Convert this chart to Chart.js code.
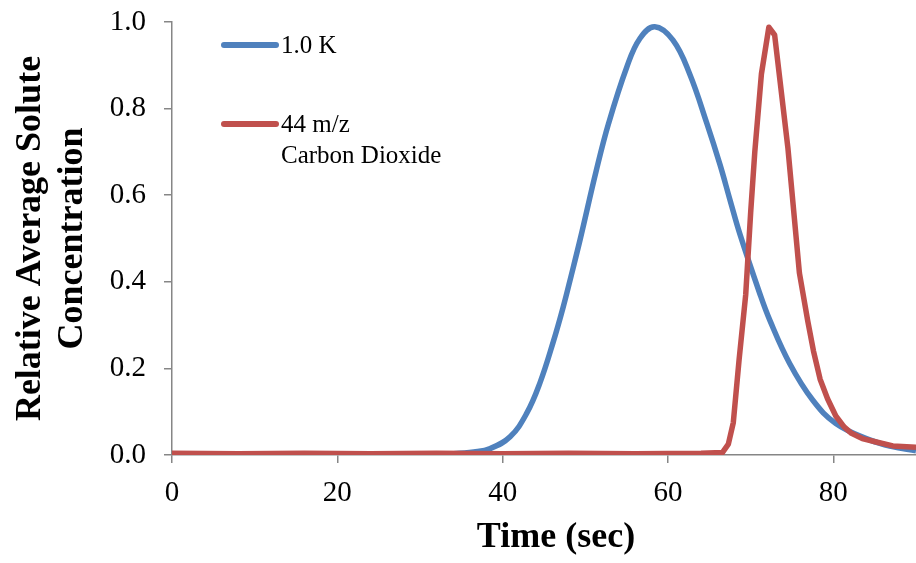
<!DOCTYPE html>
<html>
<head>
<meta charset="utf-8">
<script src="https://cdn.jsdelivr.net/npm/chart.js@4.4.1/dist/chart.umd.min.js"></script>
<style>
  html, body { margin: 0; padding: 0; background: #fff; }
  #wrap { width: 916px; height: 563px; }
</style>
</head>
<body>
<div id="wrap"><canvas id="chart" width="916" height="563"></canvas></div>
<script>
// Values
const blueTime = [0, 20, 30, 34, 36.5, 38.5, 40.9, 42.9, 44.5, 46.1, 47.3, 48.3, 49.4, 51.3, 52.8, 55.0, 56.6, 58.4, 60.6, 62.6, 64.7, 66.3, 67.5, 68.7, 71.1, 72.3, 74.7, 77.5, 80.3, 84.4, 87.0, 90.0];
const blueConc = [0, 0, 0.001, 0.003, 0.007, 0.015, 0.042, 0.096, 0.166, 0.26, 0.34, 0.415, 0.5, 0.655, 0.765, 0.895, 0.962, 0.989, 0.958, 0.881, 0.766, 0.67, 0.589, 0.51, 0.373, 0.312, 0.212, 0.127, 0.073, 0.035, 0.02, 0.01];

const redTime = [0, 8, 16, 24, 32, 40, 48, 56, 64, 66.6, 67.3, 67.9, 68.6, 69.4, 70.0, 70.5, 71.3, 72.2, 72.9, 74.5, 75.9, 76.9, 77.6, 78.4, 79.3, 80.3, 81.3, 82.2, 83.5, 85.2, 87.2, 90.0];
const redConc = [0.004, 0.003, 0.004, 0.003, 0.004, 0.003, 0.004, 0.003, 0.004, 0.006, 0.025, 0.075, 0.22, 0.37, 0.56, 0.70, 0.88, 0.988, 0.97, 0.71, 0.42, 0.31, 0.24, 0.175, 0.13, 0.09, 0.065, 0.05, 0.038, 0.03, 0.021, 0.018];

const xTicks = [0, 20, 40, 60, 80];
const yTicks = [0, 0.2, 0.4, 0.6, 0.8, 1.0];

const BLUE = '#4f81bd';
const RED  = '#c0504d';
const AXIS = '#868686';
const SERIF = "'Liberation Serif', 'Times New Roman', serif";

const toPoints = (xs, ys) => xs.map((x, i) => ({ x, y: ys[i] }));

// legend + x title drawn by hand, Excel style
const overlay = {
  id: 'overlay',
  afterDraw(chart) {
    const ctx = chart.ctx;
    ctx.save();
    ctx.lineCap = 'round';
    ctx.lineWidth = 6;
    ctx.strokeStyle = BLUE;
    ctx.beginPath(); ctx.moveTo(224, 45); ctx.lineTo(276, 45); ctx.stroke();
    ctx.strokeStyle = RED;
    ctx.beginPath(); ctx.moveTo(224, 124); ctx.lineTo(276, 124); ctx.stroke();

    ctx.fillStyle = '#000';
    ctx.font = '25px ' + SERIF;
    ctx.textAlign = 'left';
    ctx.textBaseline = 'middle';
    ctx.fillText('1.0 K', 281, 46);
    ctx.fillText('44 m/z', 281, 125);
    ctx.fillText('Carbon Dioxide', 281, 156);

    ctx.font = 'bold 36px ' + SERIF;
    ctx.textAlign = 'center';
    ctx.fillText('Time (sec)', 556, 538);
    ctx.restore();
  }
};

new Chart(document.getElementById('chart'), {
  type: 'line',
  data: {
    datasets: [
      {
        label: '44 m/z Carbon Dioxide',
        data: toPoints(redTime, redConc),
        borderColor: RED,
        borderWidth: 5.5,
        pointRadius: 0,
        tension: 0,
        borderJoinStyle: 'round',
        order: 0,
      },
      {
        label: '1.0 K',
        data: toPoints(blueTime, blueConc),
        borderColor: BLUE,
        borderWidth: 5.5,
        pointRadius: 0,
        tension: 0.4,
        order: 1,
      },
    ],
  },
  options: {
    responsive: false,
    animation: false,
    layout: { padding: { top: 22, right: 0, left: 0, bottom: 0 } },
    plugins: { legend: { display: false }, tooltip: { enabled: false } },
    scales: {
      x: {
        type: 'linear',
        min: 0,
        max: 90,
        afterBuildTicks: s => { s.ticks = xTicks.map(v => ({ value: v })); },
        afterFit: s => { s.height = 108; s.paddingLeft = 0; s.paddingRight = 0; },
        grid: { drawOnChartArea: false, drawTicks: true, tickLength: 8, color: AXIS, lineWidth: 1.5 },
        border: { color: AXIS, width: 1.5 },
        ticks: { color: '#000', font: { family: SERIF, size: 29 }, padding: 13, maxRotation: 0 },
      },
      y: {
        min: 0,
        max: 1,
        afterBuildTicks: s => { s.ticks = yTicks.map(v => ({ value: v })); },
        afterFit: s => { s.width = 172; s.paddingTop = 0; s.paddingBottom = 0; },
        grid: { drawOnChartArea: false, drawTicks: true, tickLength: 8, color: AXIS, lineWidth: 1.5 },
        border: { color: AXIS, width: 1.5 },
        ticks: { color: '#000', font: { family: SERIF, size: 29 }, padding: 18, callback: v => v.toFixed(1) },
        title: {
          display: true,
          text: ['Relative Average Solute', 'Concentration'],
          color: '#000',
          font: { family: SERIF, size: 36, weight: 'bold', lineHeight: 1.17 },
          padding: { top: 10, bottom: 0 },
        },
      },
    },
  },
  plugins: [overlay],
});
</script>
</body>
</html>
